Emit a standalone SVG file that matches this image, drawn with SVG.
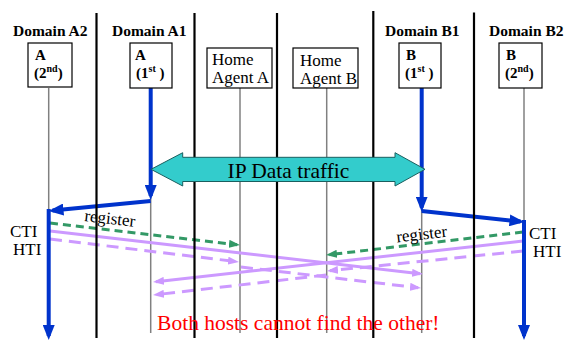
<svg xmlns="http://www.w3.org/2000/svg" width="565" height="341" viewBox="0 0 565 341" font-family="'Liberation Serif', 'DejaVu Serif', serif">
<style>
.dom{font-size:15.5px;font-weight:bold}
.bx{fill:#fff;stroke:#000;stroke-width:1.2}
.bt{font-size:15px;font-weight:bold}
.ht{font-size:17px}
.life{stroke:#808080;stroke-width:1.5;fill:none}
.div{stroke:#000;stroke-width:2.2;fill:none}
.blue{stroke:#0033CC;stroke-width:4;fill:none;marker-end:url(#mb)}
.pur{stroke:#CC99FF;stroke-width:3;fill:none;marker-end:url(#mp)}
.dash{stroke-dasharray:12,7}
.grn{stroke:#339966;stroke-width:3;fill:none;stroke-dasharray:8,5;marker-end:url(#mg)}
.lbl{font-size:17px}
</style>
<defs>
<marker id="mb" markerUnits="userSpaceOnUse" markerWidth="15" markerHeight="12" refX="11" refY="6" orient="auto"><path d="M0,0 L15,6 L0,12 z" fill="#0033CC"/></marker>
<marker id="mp" markerUnits="userSpaceOnUse" markerWidth="11" markerHeight="8" refX="8" refY="4" orient="auto"><path d="M0,0 L11,4 L0,8 z" fill="#CC99FF"/></marker>
<marker id="mg" markerUnits="userSpaceOnUse" markerWidth="11" markerHeight="8" refX="8" refY="4" orient="auto"><path d="M0,0 L11,4 L0,8 z" fill="#339966"/></marker>
</defs>
<rect width="565" height="341" fill="#fff"/>

<g id="domain-labels">
<text class="dom" x="13" y="36">Domain A2</text>
<text class="dom" x="112" y="36">Domain A1</text>
<text class="dom" x="385" y="36">Domain B1</text>
<text class="dom" x="489" y="36">Domain B2</text>
</g>

<g id="lifelines">
<line class="life" x1="48.7" y1="88" x2="48.7" y2="212"/>
<line class="life" x1="150.7" y1="196" x2="150.7" y2="333"/>
<line class="life" x1="240" y1="88" x2="240" y2="333"/>
<line class="life" x1="326.7" y1="88" x2="326.7" y2="333"/>
<line class="life" x1="421.7" y1="208" x2="421.7" y2="333"/>
<line class="life" x1="524" y1="88" x2="524" y2="222"/>
</g>

<g id="connectors">
<line class="grn" x1="50" y1="223" x2="237" y2="244.7"/>
<line class="grn" x1="523" y1="232" x2="329" y2="254.7"/>
<line class="pur" x1="50" y1="231" x2="420" y2="273.7"/>
<line class="pur dash" x1="50" y1="239" x2="236" y2="261.6"/>
<line class="pur dash" x1="241" y1="267" x2="418" y2="287.7"/>
<line class="pur" x1="523" y1="241" x2="156" y2="281.7"/>
<line class="pur dash" x1="523" y1="251" x2="330" y2="270.7"/>
<line class="pur dash" x1="326" y1="275" x2="156" y2="294.7"/>
<line class="blue" x1="150.7" y1="88" x2="150.7" y2="196"/>
<line class="blue" x1="150.7" y1="201" x2="52.5" y2="210.6"/>
<line class="blue" x1="48.7" y1="209" x2="48.7" y2="336"/>
<line class="blue" x1="421.7" y1="88" x2="421.7" y2="207.7"/>
<line class="blue" x1="421.7" y1="211" x2="520.5" y2="221.6"/>
<line class="blue" x1="524" y1="220" x2="524" y2="336"/>
<text class="lbl" transform="translate(84,221) rotate(6.5)">register</text>
<text class="lbl" transform="translate(397,242.5) rotate(-6.6)">register</text>
</g>

<g id="dividers">
<line class="div" x1="96.5" y1="13" x2="96.5" y2="338"/>
<line class="div" x1="194.5" y1="13" x2="194.5" y2="338"/>
<line class="div" x1="277" y1="13" x2="277" y2="338"/>
<line class="div" x1="373.3" y1="11" x2="373.3" y2="338"/>
<line class="div" x1="474" y1="12.5" x2="474" y2="338"/>
</g>

<g id="node-A2">
<rect class="bx" x="28" y="43" width="44" height="44"/>
<text class="bt" x="35" y="60">A</text>
<text class="bt" x="34" y="78">(2<tspan font-size="10" dy="-6">nd</tspan><tspan dy="6">)</tspan></text>
</g>
<g id="node-A1">
<rect class="bx" x="130" y="43" width="42" height="45"/>
<text class="bt" x="135" y="60">A</text>
<text class="bt" x="136" y="78">(1<tspan font-size="10" dy="-6">st</tspan><tspan dy="6"> )</tspan></text>
</g>
<g id="node-HA-A">
<rect class="bx" x="207" y="48" width="65" height="40"/>
<text class="ht" x="212" y="65">Home</text>
<text class="ht" x="212" y="83">Agent A</text>
</g>
<g id="node-HA-B">
<rect class="bx" x="293" y="48" width="65" height="40"/>
<text class="ht" x="300" y="66">Home</text>
<text class="ht" x="300" y="84">Agent B</text>
</g>
<g id="node-B1">
<rect class="bx" x="399" y="43" width="42" height="45"/>
<text class="bt" x="406" y="60">B</text>
<text class="bt" x="405" y="78">(1<tspan font-size="10" dy="-6">st</tspan><tspan dy="6"> )</tspan></text>
</g>
<g id="node-B2">
<rect class="bx" x="499" y="43" width="43" height="45"/>
<text class="bt" x="506" y="60">B</text>
<text class="bt" x="505" y="78">(2<tspan font-size="10" dy="-6">nd</tspan><tspan dy="6">)</tspan></text>
</g>

<g id="ip-traffic">
<polygon points="151,169.3 182.7,152.7 182.7,157.3 395,157.3 395,152.7 425,169.3 395,186 395,181.5 182.7,181.5 182.7,186" fill="#33CCCC" stroke="#1a5f5f" stroke-width="1"/>
<text x="288.5" y="177.5" font-size="21.5" text-anchor="middle">IP Data traffic</text>
</g>

<g id="tunnel-labels">
<text class="lbl" x="10" y="236.5">CTI</text>
<text class="lbl" x="13" y="255">HTI</text>
<text class="lbl" x="529" y="239">CTI</text>
<text class="lbl" x="533" y="257">HTI</text>
</g>

<text x="298.3" y="330" font-size="21.5" text-anchor="middle" fill="#FF0000">Both hosts cannot find the other!</text>
</svg>
